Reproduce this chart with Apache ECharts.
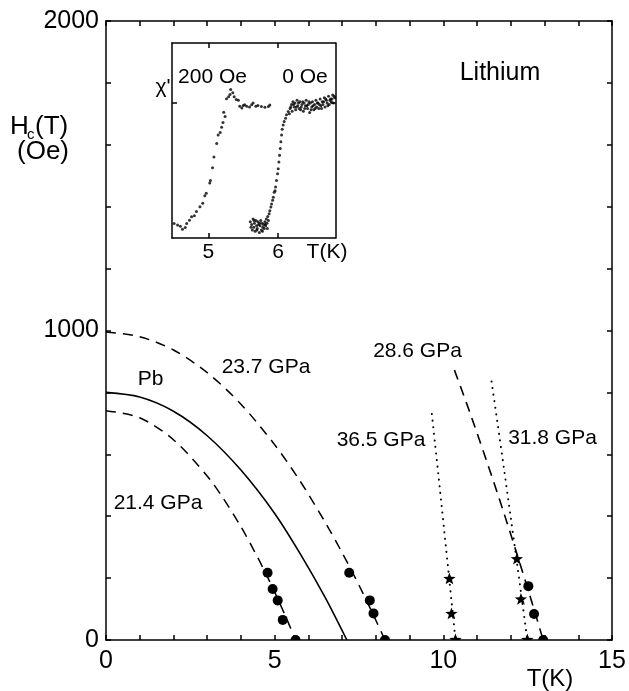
<!DOCTYPE html>
<html><head><meta charset="utf-8">
<script src="https://cdn.jsdelivr.net/npm/echarts@6/dist/echarts.min.js"></script>
<style>html,body{margin:0;padding:0;background:#fff}#c{width:629px;height:691px}</style>
</head><body><div id="c"></div>
<script>
// ---------- main panel data (T in K, Hc in Oe) ----------
const pbT = [0, 1, 2, 3, 4, 5, 5.75, 6.5, 7.14];
const pbH = [800, 785, 739, 660, 549, 409, 280, 137, 0];

const p214T = [0, 1, 2, 3, 3.48, 4, 4.5, 4.79, 5.1, 5.4, 5.62];
const p214H = [741, 718, 647, 530, 457, 366, 266, 203, 131, 57, 0];
const p214ptsT = [4.79, 4.94, 5.09, 5.24, 5.62];
const p214ptsH = [217, 165, 128, 65, 0];

const p237T = [0, 1, 2, 3, 4, 5, 5.75, 6.5, 7, 7.5, 7.9, 8.27];
const p237H = [995, 980, 937, 864, 762, 631, 514, 380, 282, 177, 87, 0];
const p237ptsT = [7.21, 7.82, 7.93, 8.27];
const p237ptsH = [217, 128, 86, 0];

const p286T = [10.33, 10.8, 11.3, 11.8, 12.3, 12.7, 12.96];
const p286H = [872, 731, 573, 409, 237, 95, 0];
const p286ptsT = [12.52, 12.69, 12.96];
const p286ptsH = [174, 84, 0];

const p318T = [11.43, 11.6, 11.8, 12.0, 12.2, 12.35, 12.49];
const p318H = [835, 706, 552, 395, 236, 115, 0];
const p318ptsT = [12.18, 12.30, 12.49];
const p318ptsH = [261, 131, 0];

const p365T = [9.66, 9.75, 9.85, 9.95, 10.05, 10.15, 10.25, 10.36];
const p365H = [730, 639, 537, 434, 329, 224, 118, 0];
const p365ptsT = [10.18, 10.24, 10.36];
const p365ptsH = [197, 84, 0];

const mainXTicks = [0, 5, 10, 15];
const mainYTicks = [0, 1000, 2000];

// ---------- inset data (T in K, chi' arbitrary units) ----------
const oe200T = [4.51,4.56,4.60,4.63,4.67,4.69,4.73,4.76,4.80,4.83,4.88,4.92,4.95,4.97,5.02,5.03,5.06,5.08,5.12,5.14,5.17,5.19,5.21,5.22,5.24,5.26,5.29,5.31,5.32,5.35,5.37,5.40,5.43,5.45,5.48,5.50,5.52,5.55,5.59,5.62,5.64,5.68,5.71,5.76,5.81,5.86,5.88];
const oe200V = [0.107,0.097,0.087,0.065,0.077,0.107,0.132,0.157,0.165,0.197,0.232,0.257,0.314,0.332,0.407,0.427,0.521,0.601,0.701,0.764,0.781,0.821,0.856,0.931,0.901,1.031,1.046,1.063,1.100,1.076,1.046,1.026,1.020,0.976,0.963,0.981,0.988,0.976,0.971,0.988,1.001,0.976,0.981,0.975,0.968,0.975,0.985];

const oe0T = [5.60,5.61,5.62,5.63,5.64,5.65,5.655,5.66,5.67,5.68,5.69,5.695,5.70,5.71,5.72,5.73,5.735,5.74,5.75,5.76,5.77,5.775,5.78,5.79,5.80,5.81,5.815,5.82,5.83,5.84,5.845,5.85,5.86,5.87,
  5.88,5.895,5.905,5.92,5.93,5.943,5.955,5.962,5.976,5.991,6.000,6.010,6.019,6.029,6.038,6.048,6.057,6.071,6.086,6.105,6.119,6.143,
  6.17,6.19,6.20,6.21,6.23,6.24,6.25,6.27,6.28,6.30,6.31,6.33,6.34,6.36,6.37,6.39,6.40,6.42,6.43,6.45,6.46,6.48,6.49,6.51,6.52,6.54,6.55,6.57,6.58,6.60,6.61,6.63,6.64,6.66,6.67,6.69,6.70,6.72,6.73,6.75,6.76,6.78,6.79,6.81,
  6.16,6.18,6.22,6.26,6.29,6.32,6.35,6.38,6.41,6.44,6.47,6.50,6.53,6.56,6.59,6.62,6.65,6.68,6.71,6.74,6.77,6.80];
const oe0V = [0.12,0.08,0.10,0.06,0.14,0.08,0.13,0.11,0.05,0.13,0.09,0.06,0.07,0.12,0.10,0.04,0.11,0.09,0.13,0.06,0.11,0.05,0.08,0.10,0.07,0.12,0.10,0.09,0.14,0.11,0.07,0.16,0.13,0.18,
  0.202,0.23,0.252,0.28,0.302,0.339,0.35,0.377,0.427,0.477,0.514,0.564,0.614,0.664,0.714,0.764,0.806,0.838,0.863,0.888,0.913,0.938,
  0.96,0.99,0.94,1.01,0.97,1.00,0.95,1.02,0.98,0.96,1.01,0.97,0.99,0.94,1.00,0.98,1.02,0.96,0.99,0.93,1.00,0.97,1.01,0.95,0.99,1.02,0.97,1.00,0.96,1.03,0.98,1.01,0.99,1.04,0.97,1.02,1.00,1.05,0.99,1.03,1.01,1.06,1.00,1.04,
  0.92,0.97,0.99,0.97,1.00,0.95,1.01,0.96,0.98,1.01,0.95,0.98,0.96,1.00,0.99,0.96,1.01,1.03,0.98,1.02,1.03,1.05];
const insetXTicks = [5, 6];
const insetYTicks = [1];

// ---------- helpers ----------
const FONT = 'Liberation Sans, Arial, Helvetica, sans-serif';
const zip = (a, b) => a.map((v, i) => [v, b[i]]);
const DASH = [10, 7];
const DOT = [0.1, 6.5];

function curve(T, H, type, width, cap) {
  return { type: 'line', xAxisIndex: 0, yAxisIndex: 0, data: zip(T, H), showSymbol: false,
    smooth: 0.3, silent: true, clip: true, z: 3,
    lineStyle: { color: '#000', width: width, type: type, cap: cap || 'butt' } };
}
function markers(T, H, kind) {
  return { type: 'custom', xAxisIndex: 0, yAxisIndex: 0, clip: true, silent: true, z: 5,
    data: zip(T, H),
    renderItem: function (params, api) {
      const p = api.coord([api.value(0), api.value(1)]);
      if (kind === 'circle') {
        return { type: 'circle', shape: { cx: p[0], cy: p[1], r: 5 }, style: { fill: '#000' } };
      }
      const pts = [];
      for (let k = 0; k < 10; k++) {
        const r = k % 2 === 0 ? 6.5 : 2.7;
        const a = -Math.PI / 2 + k * Math.PI / 5;
        pts.push([p[0] + r * Math.cos(a), p[1] + r * Math.sin(a)]);
      }
      return { type: 'polygon', shape: { points: pts }, style: { fill: '#000' } };
    } };
}

const axisLine = { show: true, onZero: false, lineStyle: { color: '#000', width: 1.5 } };
const tickIn = { show: true, inside: true, length: 5, lineStyle: { color: '#000', width: 1.5 } };

const option = {
  animation: false,
  backgroundColor: '#fff',
  grid: [
    { left: 106, top: 21, width: 506, height: 619 },
    { left: 172, top: 43, width: 163.5, height: 195 }
  ],
  xAxis: [
    { type: 'value', gridIndex: 0, min: 0, max: 15, interval: 1, position: 'bottom',
      axisLine, axisTick: tickIn, splitLine: { show: false },
      axisLabel: { color: '#000', fontSize: 25, fontFamily: FONT, margin: 9,
        formatter: v => mainXTicks.indexOf(v) >= 0 ? String(v) : '' } },
    { type: 'value', gridIndex: 0, min: 0, max: 15, interval: 1, position: 'top',
      axisLine, axisTick: tickIn, splitLine: { show: false }, axisLabel: { show: false } },
    { type: 'value', gridIndex: 1, min: 4.48, max: 6.82, position: 'bottom',
      axisLine, axisTick: Object.assign({}, tickIn, { customValues: insetXTicks }), splitLine: { show: false },
      axisLabel: { color: '#000', fontSize: 21, fontFamily: FONT, margin: 4, customValues: insetXTicks } },
    { type: 'value', gridIndex: 1, min: 4.48, max: 6.82, position: 'top',
      axisLine, axisTick: Object.assign({}, tickIn, { customValues: insetXTicks }), splitLine: { show: false },
      axisLabel: { show: false } }
  ],
  yAxis: [
    { type: 'value', gridIndex: 0, min: 0, max: 2000, interval: 200, position: 'left',
      axisLine, axisTick: tickIn, splitLine: { show: false },
      axisLabel: { color: '#000', fontSize: 25, fontFamily: FONT, margin: 7, padding: [0, 0, 11, 0],
        formatter: v => mainYTicks.indexOf(v) >= 0 ? String(v) : '' } },
    { type: 'value', gridIndex: 0, min: 0, max: 2000, interval: 200, position: 'right',
      axisLine, axisTick: tickIn, splitLine: { show: false }, axisLabel: { show: false } },
    { type: 'value', gridIndex: 1, min: 0, max: 1.445, position: 'left',
      axisLine, axisTick: Object.assign({}, tickIn, { customValues: insetYTicks }), splitLine: { show: false },
      axisLabel: { show: false } },
    { type: 'value', gridIndex: 1, min: 0, max: 1.445, position: 'right',
      axisLine, axisTick: Object.assign({}, tickIn, { customValues: insetYTicks }), splitLine: { show: false },
      axisLabel: { show: false } }
  ],
  series: [
    curve(pbT, pbH, 'solid', 1.6),
    curve(p214T, p214H, DASH, 1.5),
    curve(p237T, p237H, DASH, 1.5),
    curve(p286T, p286H, DASH, 1.6),
    curve(p318T, p318H, DOT, 2, 'round'),
    curve(p365T, p365H, DOT, 2, 'round'),
    markers(p214ptsT, p214ptsH, 'circle'),
    markers(p237ptsT, p237ptsH, 'circle'),
    markers(p286ptsT, p286ptsH, 'circle'),
    markers(p318ptsT, p318ptsH, 'star'),
    markers(p365ptsT, p365ptsH, 'star'),
    { type: 'scatter', xAxisIndex: 2, yAxisIndex: 2, symbolSize: 3, silent: true,
      itemStyle: { color: '#000' }, data: zip(oe200T, oe200V) },
    { type: 'scatter', xAxisIndex: 2, yAxisIndex: 2, symbolSize: 3, silent: true,
      itemStyle: { color: '#000' }, data: zip(oe0T, oe0V) }
  ],
  graphic: [
    { type: 'text', x: 500, y: 73, style: { text: 'Lithium', font: '25px ' + FONT, fill: '#000', textAlign: 'center', textVerticalAlign: 'middle' } },
    { type: 'text', x: 150.5, y: 379.5, style: { text: 'Pb', font: '21px ' + FONT, fill: '#000', textAlign: 'center', textVerticalAlign: 'middle' } },
    { type: 'text', x: 266, y: 367, style: { text: '23.7 GPa', font: '21px ' + FONT, fill: '#000', textAlign: 'center', textVerticalAlign: 'middle' } },
    { type: 'text', x: 158, y: 503, style: { text: '21.4 GPa', font: '21px ' + FONT, fill: '#000', textAlign: 'center', textVerticalAlign: 'middle' } },
    { type: 'text', x: 417.5, y: 351, style: { text: '28.6 GPa', font: '21px ' + FONT, fill: '#000', textAlign: 'center', textVerticalAlign: 'middle' } },
    { type: 'text', x: 381, y: 440, style: { text: '36.5 GPa', font: '21px ' + FONT, fill: '#000', textAlign: 'center', textVerticalAlign: 'middle' } },
    { type: 'text', x: 552.5, y: 438, style: { text: '31.8 GPa', font: '21px ' + FONT, fill: '#000', textAlign: 'center', textVerticalAlign: 'middle' } },
    { type: 'text', x: 550, y: 679, style: { text: 'T(K)', font: '24px ' + FONT, fill: '#000', textAlign: 'center', textVerticalAlign: 'middle' } },
    { type: 'text', x: 10, y: 127, style: { text: 'H', font: '26px ' + FONT, fill: '#000', textAlign: 'left', textVerticalAlign: 'middle' } },
    { type: 'text', x: 27, y: 135, style: { text: 'c', font: '15px ' + FONT, fill: '#000', textAlign: 'left', textVerticalAlign: 'middle' } },
    { type: 'text', x: 35, y: 127, style: { text: '(T)', font: '26px ' + FONT, fill: '#000', textAlign: 'left', textVerticalAlign: 'middle' } },
    { type: 'text', x: 17, y: 152, style: { text: '(Oe)', font: '26px ' + FONT, fill: '#000', textAlign: 'left', textVerticalAlign: 'middle' } },
    { type: 'text', x: 163, y: 87, style: { text: "\u03C7'", font: '21px ' + FONT, fill: '#000', textAlign: 'center', textVerticalAlign: 'middle' } },
    { type: 'text', x: 212.5, y: 77.5, style: { text: '200 Oe', font: '21px ' + FONT, fill: '#000', textAlign: 'center', textVerticalAlign: 'middle' } },
    { type: 'text', x: 305, y: 77.5, style: { text: '0 Oe', font: '21px ' + FONT, fill: '#000', textAlign: 'center', textVerticalAlign: 'middle' } },
    { type: 'text', x: 327, y: 252, style: { text: 'T(K)', font: '21px ' + FONT, fill: '#000', textAlign: 'center', textVerticalAlign: 'middle' } }
  ]
};

const chart = echarts.init(document.getElementById('c'), null, { renderer: 'canvas' });
chart.setOption(option);
</script></body></html>
